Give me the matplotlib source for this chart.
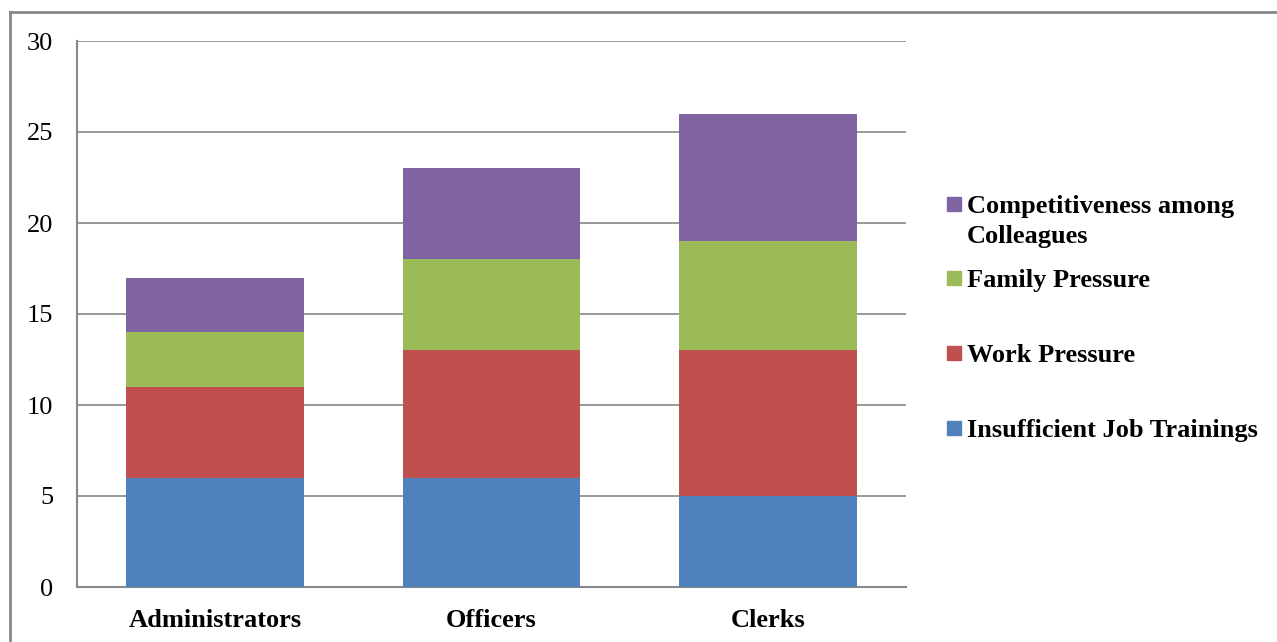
import matplotlib
matplotlib.use("Agg")
import matplotlib.pyplot as plt
from matplotlib.patches import Rectangle
from matplotlib.lines import Line2D
import numpy as np

categories = ["Administrators", "Officers", "Clerks"]
series_names = ["Insufficient Job Trainings", "Work Pressure",
                "Family Pressure", "Competitiveness among\nColleagues"]
job_trainings = [6, 6, 5]
work_pressure = [5, 7, 8]
family_pressure = [3, 5, 6]
competitiveness = [3, 5, 7]
colors = ["#4F81BD", "#C0504D", "#9BBB59", "#8064A2"]

plt.rcParams['font.family'] = ['Liberation Serif', 'DejaVu Serif']

W, H = 1277, 642
fig = plt.figure(figsize=(W / 100, H / 100), dpi=100)
ax = fig.add_axes([77 / W, 1 - 587 / H, (906 - 77) / W, (587 - 41) / H])

x = np.arange(len(categories))
bottom = np.zeros(len(categories))
for vals, c in zip([job_trainings, work_pressure, family_pressure, competitiveness], colors):
    ax.bar(x, vals, 0.644, bottom=bottom, color=c, zorder=3)
    bottom += np.array(vals)

ax.set_xlim(-0.5, 2.5)
ax.set_ylim(0, 30)
ax.set_yticks(range(0, 31, 5))
ax.set_xticks(x)
ax.set_xticklabels(categories, fontweight='bold', fontsize=19)
ax.tick_params(axis='y', labelsize=19, length=0, pad=17)
ax.tick_params(axis='x', length=0, pad=16)
ax.grid(axis='y', color='#888888', linewidth=1.2, zorder=0)
for s in ['top', 'right']:
    ax.spines[s].set_visible(False)
for s in ['left', 'bottom']:
    ax.spines[s].set_color('#888888')
    ax.spines[s].set_linewidth(1.5)

# legend, drawn by hand so the square sits on the first text line
leg_y = [428, 353, 278, 204]
for name, c, yy in zip(series_names, colors, leg_y):
    fig.patches.append(Rectangle((947 / W, 1 - (yy + 7) / H), 14 / W, 14 / H,
                                 transform=fig.transFigure, color=c))
    for i, line in enumerate(name.split("\n")):
        fig.text(967 / W, 1 - (yy + 9 + 30 * i) / H, line, fontsize=19,
                 fontweight='bold', va='baseline', ha='left')

# outer frame
fig.add_artist(Line2D([10 / W, 10 / W], [0, 1 - 12 / H], transform=fig.transFigure,
                      color='#888888', linewidth=2))
fig.add_artist(Line2D([10 / W, 1], [1 - 12 / H, 1 - 12 / H], transform=fig.transFigure,
                      color='#888888', linewidth=2))

fig.savefig("out.png", dpi=100)
